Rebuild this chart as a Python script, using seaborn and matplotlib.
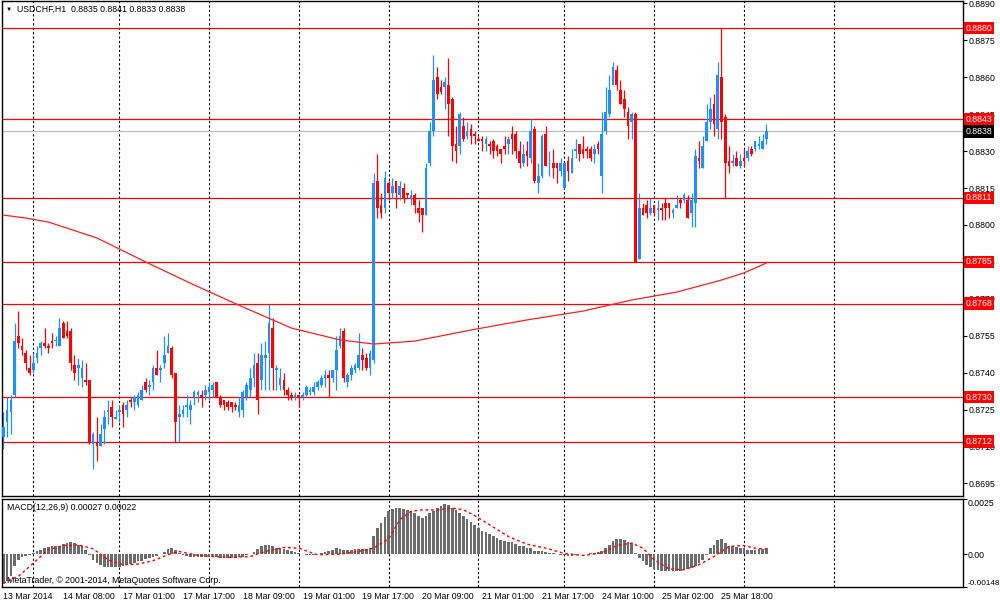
import numpy as np
import pandas as pd
import seaborn as sns
import matplotlib
matplotlib.use('Agg')
import matplotlib.pyplot as plt
from matplotlib.transforms import blended_transform_factory

# USDCHF H1 candles (bar 0 = 13 Mar 16:00)
opens = [
    .8714, .8720, .8724, .8731, .8755, .8751, .8748, .8742, .8741, .8746,
    .8750, .8752, .8751, .8753, .8753, .8751, .8760, .8757, .8757, .8743,
    .8742, .8738, .8737, .8737, .8711, .8712, .8710, .8717, .8724, .8726,
    .8721, .8724, .8727, .8725, .8729, .8728, .8727, .8729, .8736, .8734,
    .8736, .8742, .8741, .8744, .8748, .8750, .8740, .8722, .8723, .8726,
    .8725, .8730, .8731, .8731, .8731, .8732, .8733, .8736, .8730, .8729,
    .8728, .8728, .8727, .8724, .8725, .8730, .8733, .8738, .8744, .8737,
    .8746, .8748, .8758, .8741, .8735, .8737, .8733, .8731, .8730, .8731,
    .8730, .8731, .8732, .8732, .8734, .8735, .8738, .8739, .8738, .8741,
    .8751, .8757, .8736, .8739, .8741, .8742, .8747, .8746, .8742, .8745,
    .8818, .8808, .8807, .8817, .8813, .8818, .8812, .8815, .8813, .8811,
    .8812, .8807, .8807, .8804, .8825, .8838, .8860, .8856, .8856, .8857,
    .8851, .8833, .8832, .8840, .8836, .8839, .8837, .8835, .8835, .8833,
    .8833, .8834, .8832, .8831, .8832, .8833, .8837, .8837, .8830, .8825,
    .8830, .8827, .8839, .8817, .8820, .8837, .8826, .8825, .8825, .8822,
    .8815, .8826, .8821, .8830, .8833, .8831, .8831, .8831, .8829, .8833,
    .8820, .8838, .8845, .8857, .8863, .8855, .8851, .8846, .8842, .8845,
    .8786, .8807, .8808, .8805, .8808, .8806, .8807, .8809, .8809, .8805,
    .8807, .8810, .8810, .8810, .8805, .8809, .8827, .8823, .8834, .8842,
    .8849, .8839, .8860, .8844, .8826, .8825, .8827, .8824, .8827, .8827,
    .8831, .8831, .8832, .8831, .8835,
]
highs = [
    .8724, .8730, .8731, .8760, .8765, .8754, .8749, .8747, .8748, .8751,
    .8753, .8758, .8752, .8756, .8755, .8762, .8761, .8761, .8758, .8747,
    .8746, .8745, .8744, .8737, .8716, .8722, .8719, .8725, .8729, .8729,
    .8725, .8727, .8728, .8729, .8730, .8731, .8732, .8735, .8738, .8737,
    .8743, .8749, .8743, .8755, .8756, .8751, .8740, .8727, .8727, .8731,
    .8729, .8733, .8733, .8733, .8735, .8736, .8736, .8736, .8731, .8729,
    .8729, .8728, .8728, .8730, .8733, .8736, .8742, .8748, .8748, .8752,
    .8753, .8768, .8762, .8743, .8742, .8740, .8734, .8732, .8732, .8731,
    .8732, .8735, .8734, .8736, .8737, .8739, .8741, .8741, .8741, .8755,
    .8758, .8758, .8740, .8743, .8744, .8756, .8750, .8748, .8749, .8821,
    .8829, .8813, .8822, .8818, .8819, .8818, .8818, .8817, .8813, .8814,
    .8813, .8810, .8807, .8825, .8842, .8869, .8864, .8859, .8860, .8868,
    .8852, .8840, .8846, .8844, .8842, .8841, .8838, .8836, .8836, .8836,
    .8834, .8835, .8833, .8831, .8836, .8836, .8840, .8838, .8834, .8833,
    .8834, .8843, .8840, .8825, .8837, .8840, .8830, .8831, .8825, .8827,
    .8825, .8828, .8831, .8835, .8833, .8836, .8832, .8832, .8833, .8834,
    .8846, .8856, .8861, .8866, .8865, .8859, .8855, .8848, .8846, .8846,
    .8813, .8809, .8810, .8811, .8808, .8810, .8809, .8811, .8809, .8807,
    .8812, .8811, .8813, .8812, .8813, .8831, .8834, .8836, .8849, .8852,
    .8853, .8866, .8880, .8845, .8832, .8829, .8830, .8829, .8831, .8832,
    .8832, .8834, .8836, .8837, .8841,
]
lows = [
    .8709, .8714, .8715, .8730, .8750, .8747, .8741, .8739, .8740, .8744,
    .8747, .8750, .8748, .8750, .8751, .8751, .8754, .8754, .8741, .8737,
    .8735, .8734, .8735, .8711, .8701, .8704, .8710, .8711, .8719, .8718,
    .8721, .8720, .8718, .8722, .8726, .8725, .8726, .8729, .8732, .8731,
    .8733, .8739, .8736, .8742, .8748, .8738, .8712, .8712, .8722, .8722,
    .8719, .8727, .8728, .8726, .8729, .8729, .8730, .8730, .8726, .8725,
    .8725, .8724, .8725, .8722, .8722, .8729, .8730, .8734, .8723, .8733,
    .8733, .8733, .8733, .8733, .8733, .8731, .8729, .8729, .8729, .8726,
    .8729, .8730, .8731, .8731, .8733, .8734, .8734, .8730, .8736, .8733,
    .8750, .8736, .8734, .8737, .8740, .8741, .8741, .8741, .8739, .8744,
    .8803, .8803, .8805, .8810, .8811, .8807, .8810, .8809, .8811, .8808,
    .8805, .8801, .8797, .8804, .8824, .8836, .8851, .8853, .8847, .8836,
    .8826, .8825, .8829, .8834, .8835, .8833, .8833, .8834, .8830, .8830,
    .8829, .8827, .8828, .8825, .8829, .8829, .8829, .8827, .8823, .8824,
    .8824, .8825, .8817, .8813, .8819, .8824, .8820, .8819, .8817, .8820,
    .8815, .8818, .8821, .8827, .8826, .8827, .8827, .8826, .8825, .8829,
    .8813, .8837, .8844, .8857, .8855, .8849, .8844, .8835, .8835, .8785,
    .8786, .8804, .8803, .8804, .8804, .8802, .8802, .8802, .8803, .8803,
    .8807, .8807, .8809, .8803, .8799, .8799, .8823, .8823, .8834, .8839,
    .8836, .8835, .8835, .8811, .8821, .8824, .8824, .8823, .8824, .8826,
    .8828, .8830, .8831, .8831, .8833,
]
closes = [
    .8718, .8725, .8729, .8753, .8752, .8749, .8744, .8740, .8744, .8748,
    .8752, .8751, .8750, .8752, .8753, .8758, .8754, .8755, .8744, .8740,
    .8743, .8742, .8736, .8712, .8715, .8710, .8715, .8722, .8725, .8722,
    .8722, .8725, .8723, .8727, .8728, .8730, .8731, .8733, .8733, .8735,
    .8742, .8739, .8742, .8747, .8751, .8739, .8720, .8723, .8725, .8727,
    .8727, .8732, .8732, .8730, .8733, .8734, .8735, .8730, .8727, .8727,
    .8726, .8726, .8726, .8727, .8732, .8735, .8738, .8743, .8729, .8747,
    .8747, .8760, .8742, .8742, .8738, .8733, .8731, .8730, .8731, .8730,
    .8731, .8734, .8733, .8734, .8736, .8738, .8739, .8738, .8741, .8749,
    .8755, .8738, .8739, .8742, .8743, .8747, .8745, .8742, .8748, .8817,
    .8807, .8805, .8819, .8813, .8816, .8813, .8816, .8811, .8812, .8812,
    .8808, .8805, .8804, .8823, .8838, .8859, .8853, .8854, .8858, .8849,
    .8832, .8830, .8845, .8835, .8838, .8836, .8836, .8834, .8834, .8835,
    .8832, .8830, .8830, .8829, .8831, .8835, .8835, .8830, .8825, .8829,
    .8828, .8838, .8818, .8820, .8836, .8824, .8826, .8823, .8823, .8825,
    .8825, .8822, .8827, .8831, .8829, .8829, .8830, .8827, .8831, .8831,
    .8837, .8846, .8855, .8864, .8857, .8849, .8847, .8840, .8845, .8785,
    .8807, .8804, .8805, .8807, .8805, .8807, .8806, .8807, .8807, .8806,
    .8808, .8809, .8812, .8803, .8810, .8828, .8826, .8832, .8842, .8847,
    .8841, .8861, .8842, .8825, .8824, .8826, .8824, .8826, .8826, .8830,
    .8829, .8834, .8833, .8834, .8838,
]

# moving average (red curve), sampled at these bars
ma_idx = [0, 6, 12, 25, 38, 51, 64, 77, 90, 99, 110, 125, 140, 155, 168, 180, 192, 198, 204]
ma_vals = [.88040, .88028, .88012, .87947, .87850, .87756, .87667, .87581, .87533, .87516,
           .87528, .87573, .87614, .87650, .87695, .87727, .87776, .87805, .87845]

# MACD(12,26,9) histogram, one value per bar
macd = [
    -0.00136, -0.00121, -0.00101, -0.00056, -0.00026, -0.00015, -0.00008, -0.00003, 0.00005, 0.00012,
    0.00020, 0.00027, 0.00032, 0.00035, 0.00038, 0.00039, 0.00045, 0.00051, 0.00053, 0.00050,
    0.00042, 0.00035, 0.00020, -0.00003, -0.00026, -0.00041, -0.00051, -0.00059, -0.00060, -0.00060,
    -0.00060, -0.00059, -0.00056, -0.00051, -0.00045, -0.00041, -0.00033, -0.00029, -0.00023, -0.00018,
    -0.00012, -0.00008, 0.00000, 0.00009, 0.00023, 0.00030, 0.00020, 0.00005, -0.00003, -0.00008,
    -0.00011, -0.00012, -0.00012, -0.00011, -0.00011, -0.00011, -0.00012, -0.00015, -0.00017, -0.00018,
    -0.00018, -0.00018, -0.00018, -0.00015, -0.00011, -0.00006, 0.00000, 0.00009, 0.00023, 0.00035,
    0.00042, 0.00042, 0.00035, 0.00030, 0.00027, 0.00024, 0.00020, 0.00015, 0.00009, 0.00005,
    0.00000, -0.00003, -0.00003, -0.00003, 0.00000, 0.00005, 0.00009, 0.00015, 0.00020, 0.00027,
    0.00024, 0.00020, 0.00020, 0.00020, 0.00021, 0.00023, 0.00024, 0.00024, 0.00027, 0.00080,
    0.00118, 0.00141, 0.00170, 0.00194, 0.00206, 0.00209, 0.00209, 0.00206, 0.00201, 0.00197,
    0.00186, 0.00175, 0.00166, 0.00175, 0.00186, 0.00197, 0.00209, 0.00219, 0.00227, 0.00224,
    0.00209, 0.00201, 0.00186, 0.00171, 0.00160, 0.00148, 0.00133, 0.00118, 0.00106, 0.00100,
    0.00091, 0.00080, 0.00073, 0.00065, 0.00060, 0.00057, 0.00053, 0.00045, 0.00039, 0.00035,
    0.00030, 0.00027, 0.00015, 0.00012, 0.00012, 0.00009, 0.00005, 0.00005, 0.00000, -0.00003,
    -0.00003, -0.00008, -0.00008, -0.00003, 0.00000, 0.00000, 0.00000, 0.00003, 0.00005, 0.00009,
    0.00012, 0.00027, 0.00042, 0.00060, 0.00068, 0.00068, 0.00065, 0.00057, 0.00050, 0.00005,
    -0.00018, -0.00033, -0.00048, -0.00060, -0.00067, -0.00071, -0.00076, -0.00076, -0.00076, -0.00076,
    -0.00076, -0.00076, -0.00071, -0.00067, -0.00064, -0.00056, -0.00041, -0.00026, -0.00003, 0.00027,
    0.00042, 0.00065, 0.00068, 0.00050, 0.00035, 0.00035, 0.00032, 0.00030, 0.00027, 0.00020,
    0.00020, 0.00020, 0.00023, 0.00023, 0.00027,
]

# signal line (red dotted), sampled at these bars
sig_idx = [0, 4, 8, 12, 16, 20, 24, 28, 32, 36, 40, 44, 47, 52, 60, 66, 70, 75, 79, 84, 90, 95, 99,
           103, 106, 109, 112, 116, 120, 123, 126, 130, 135, 140, 145, 150, 155, 160, 164, 168, 171,
           174, 178, 182, 186, 190, 194, 198, 201, 204]
sig_vals = [-0.00132, -0.00101, -0.00041, 0.00020, 0.00039, 0.00042, 0.00024, -0.00026, -0.00048,
            -0.00045, -0.00030, -0.00003, 0.00012, -0.00006, -0.00015, -0.00011, 0.00012, 0.00030,
            0.00027, -0.00003, 0.00000, 0.00012, 0.00027, 0.00070, 0.00156, 0.00194, 0.00201,
            0.00200, 0.00209, 0.00201, 0.00175, 0.00133, 0.00080, 0.00045, 0.00027, 0.00003,
            -0.00006, 0.00005, 0.00039, 0.00050, 0.00027, -0.00026, -0.00067, -0.00071, -0.00048,
            -0.00011, 0.00035, 0.00039, 0.00027, 0.00022]

levels = [0.8880, 0.8843, 0.8811, 0.8785, 0.8768, 0.8730, 0.8712]
price_ticks = [0.8695, 0.8710, 0.8725, 0.8740, 0.8755, 0.8770, 0.8785,
               0.8800, 0.8815, 0.8830, 0.8845, 0.8860, 0.8875, 0.8890]
macd_ticks = [0.0025, 0.0, -0.00148]
macd_tick_labels = ['0.0025', '0.00', '-0.00148']

# hourly bar times (no weekend, Friday closes at 23:00)
times = pd.date_range('2014-03-13 16:00', '2014-03-26 06:00', freq='h')
times = times[(times.dayofweek < 5) & ~((times.dayofweek == 4) & (times.hour == 23))]

o = np.array(opens)
h = np.array(highs)
l = np.array(lows)
c = np.array(closes)
x = np.arange(len(o))

sns.set_style('white')
plt.rcParams['font.family'] = ['Liberation Sans', 'DejaVu Sans']
FS = 6.3

fig = plt.figure(figsize=(10, 6.04), dpi=100)
ax = fig.add_axes([0.002, 0.1788, 0.9607, 0.8195])
ax2 = fig.add_axes([0.002, 0.0286, 0.9607, 0.1452])

xlim = (-0.37, 256.5)

# day separators
days = times.normalize()
day_starts = list(x[1:][days[1:] != days[:-1]])
day_starts.append(day_starts[-1] + 24)
for a in (ax, ax2):
    for gx in day_starts:
        a.axvline(gx, color='black', lw=0.8, ls=(0, (2, 2)), zorder=1)

# horizontal levels
for lv in levels:
    ax.axhline(lv, color='#ff0000', lw=0.9, zorder=1.5)
ax.axhline(c[-1], color='#c0c0c0', lw=0.9, zorder=1.4)

# candles
up = c >= o
cols = np.where(up, '#1e90ff', '#ff0000')
ax.vlines(x, l, h, colors=cols, lw=0.9, zorder=2)
body = np.abs(c - o)
body_h = np.maximum(body, 0.00003)
ax.bar(x, body_h, bottom=np.minimum(o, c) - (body_h - body) / 2, width=0.72,
       color=cols, linewidth=0, zorder=3)

sns.lineplot(x=ma_idx, y=ma_vals, ax=ax, color='#ff2020', lw=0.9, zorder=4)

ax.set_xlim(*xlim)
ax.set_ylim(0.868986, 0.889097)
ax.set_xticks([])
ax.yaxis.tick_right()
ax.set_yticks(price_ticks)
ax.set_yticklabels([f'{t:.4f}' for t in price_ticks])
ax.tick_params(axis='y', length=3, width=0.8, pad=1.5, labelsize=FS, colors='black')
ax.set_xlabel('')
ax.set_ylabel('')

tr = blended_transform_factory(ax.transAxes, ax.transData)
for lv in levels:
    ax.annotate(f'{lv:.4f}', xy=(1, lv), xycoords=tr, xytext=(2.0, 0), textcoords='offset points',
                ha='left', va='center', fontsize=FS, color='white', annotation_clip=False,
                bbox=dict(boxstyle='square,pad=0.2', fc='#ff0000', ec='none'), zorder=6)
ax.annotate(f'{c[-1]:.4f}', xy=(1, c[-1]), xycoords=tr, xytext=(2.0, 0), textcoords='offset points',
            ha='left', va='center', fontsize=FS, color='white', annotation_clip=False,
            bbox=dict(boxstyle='square,pad=0.2', fc='black', ec='none'), zorder=6)

# MACD panel
ax2.bar(x, macd, width=0.72, color='#6c6c6c', linewidth=0, zorder=2)
sns.lineplot(x=sig_idx, y=sig_vals, ax=ax2, color='#ff0000', lw=1.0, linestyle=(0, (2, 2)), zorder=3)
ax2.set_xlim(*xlim)
ax2.set_ylim(-0.00148, 0.0025)
ax2.yaxis.tick_right()
ax2.set_yticks(macd_ticks)
ax2.set_yticklabels(macd_tick_labels)
for lbl in ax2.get_yticklabels():
    if lbl.get_text() == macd_tick_labels[0]:
        lbl.set_va('top')
    elif lbl.get_text() == macd_tick_labels[-1]:
        lbl.set_va('bottom')
        lbl.set_fontsize(5.9)
ax2.tick_params(axis='y', length=3, width=0.8, pad=0.8, labelsize=FS, colors='black')
for lbl in ax2.get_yticklabels():
    if lbl.get_text() == macd_tick_labels[-1]:
        lbl.set_fontsize(5.9)

lab_idx = x[::16]
lab_txt = [times[i].strftime('%d %b %Y') if i == 0 else times[i].strftime('%d %b %H:%M') for i in lab_idx]
ax2.set_xticks(lab_idx)
ax2.set_xticklabels(lab_txt)
for lbl in ax2.get_xticklabels():
    lbl.set_ha('left')
ax2.tick_params(axis='x', length=3, width=0.8, pad=1.0, labelsize=FS, colors='black')
ax2.set_xlabel('')
ax2.set_ylabel('')

for a in (ax, ax2):
    for sp in a.spines.values():
        sp.set_color('black')
        sp.set_linewidth(1.0)
        sp.set_visible(True)

ax2.text(0.0052, 0.90, f'MACD(12,26,9) {macd[-1]:.5f} {sig_vals[-1]:.5f}', transform=ax2.transAxes,
         fontsize=FS, va='center', ha='left', color='black')
ax2.text(0.0052, 0.07, 'MetaTrader, \u00a9 2001-2014, MetaQuotes Software Corp.', transform=ax2.transAxes,
         fontsize=FS, va='center', ha='left', color='black')

fig.text(0.006, 1 - 9.5 / 604, '\u25bc', fontsize=4.5, va='center', ha='left', color='black')
fig.text(0.0173, 1 - 9.5 / 604, f'USDCHF,H1  {o[-1]:.4f} {h[-1]:.4f} {l[-1]:.4f} {c[-1]:.4f}',
         fontsize=FS, va='center', ha='left', color='black')

fig.savefig('out.png', dpi=100, facecolor='white')
